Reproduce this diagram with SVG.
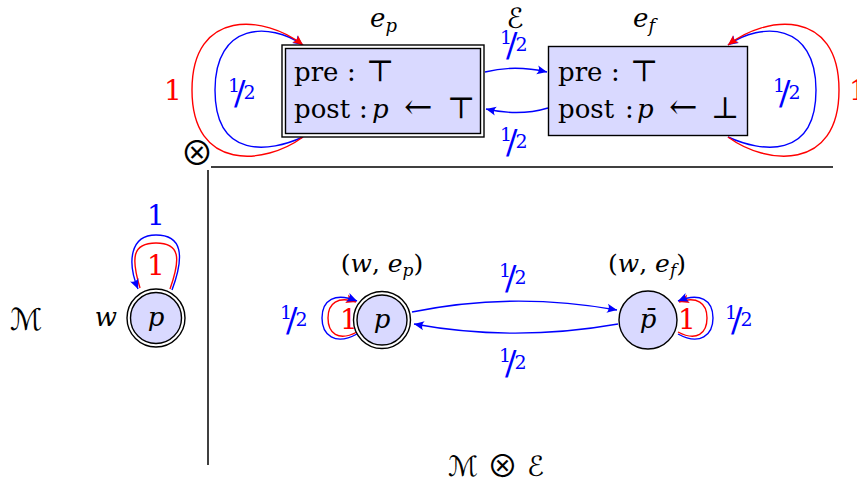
<svg xmlns="http://www.w3.org/2000/svg" width="857" height="489" viewBox="0 0 857 489">
<style>
text{font-family:"DejaVu Serif",serif}
.t{fill:#000}
.mi{font-style:italic;fill:#000}
.sym{font-family:"DejaVu Serif","DejaVu Sans",serif;fill:#000}
.op{font-family:"Noto Sans CJK JP","Noto Sans CJK SC","DejaVu Sans",sans-serif;font-style:normal;font-weight:normal;fill:#000}
.scr{font-family:"DejaVu Serif","DejaVu Sans",serif;font-style:italic;fill:#000}
.blue{fill:#0000ff}
.red{fill:#ff0000}
.eb{fill:none;stroke:#0000ff;stroke-width:1.4}
.er{fill:none;stroke:#ff0000;stroke-width:1.4}
.node{fill:#d9d9ff;stroke:#000;stroke-width:1.4}
.ring{fill:#fff;stroke:#000;stroke-width:1.4}
.n{font-size:19px}
.s{font-size:34px}
.rule{stroke:#000;stroke-width:1.5}
</style>
<defs>
<marker id="ab" viewBox="-11 -6 12 12" refX="0" refY="0" markerWidth="12" markerHeight="12" markerUnits="userSpaceOnUse" orient="auto"><path d="M0,0 L-10,-4.5 Q-6.5,0 -10,4.5 Z" fill="#0000ff"/></marker>
<marker id="ar" viewBox="-11 -6 12 12" refX="0" refY="0" markerWidth="12" markerHeight="12" markerUnits="userSpaceOnUse" orient="auto"><path d="M0,0 L-10,-4.5 Q-6.5,0 -10,4.5 Z" fill="#ff0000"/></marker>
</defs>

<g id="rules">
<line class="rule" x1="211" y1="167" x2="833" y2="167"/>
<line class="rule" x1="208" y1="170" x2="208" y2="465"/>
<text class="op" x="197" y="165" font-size="33" text-anchor="middle">⊗</text>
</g>

<g id="connectors">
<path class="eb" d="M303,137 C270,152 215,160 215,90 C215,22 270,22 303,45" marker-end="url(#ab)"/>
<path class="er" d="M303,137 C265,165 192,172 192,90 C192,8 265,15 303,45" marker-end="url(#ar)"/>
<path class="eb" d="M728,137 C761,152 816,160 816,90 C816,22 761,22 728,45" marker-end="url(#ab)"/>
<path class="er" d="M728,137 C766,165 839,172 839,90 C839,8 766,15 728,45" marker-end="url(#ar)"/>
<path class="eb" d="M485,72 C505,67 525,67 547,72" marker-end="url(#ab)"/>
<path class="eb" d="M548,108 C528,114 508,114 486,109" marker-end="url(#ab)"/>
<path class="er" d="M170,289 C181,258 180,243 156,243 C132,243 131,258 140,288"/>
<path class="eb" d="M172,290 C185,255 182,235 156,235 C130,235 127,262 138,289" marker-end="url(#ab)"/>
<path class="er" d="M357,332 C338,342 328,333 328,318 C328,303 338,296 356,302" marker-end="url(#ar)"/>
<path class="eb" d="M357,334 C335,346 322,335 322,318 C322,300 335,292 357,301" marker-end="url(#ab)"/>
<path class="er" d="M678,332 C697,342 707,333 707,318 C707,303 697,296 679,302" marker-end="url(#ar)"/>
<path class="eb" d="M678,334 C700,346 713,335 713,318 C713,300 700,292 678,301" marker-end="url(#ab)"/>
<path class="eb" d="M412,312 C480,298 550,298 617,310" marker-end="url(#ab)"/>
<path class="eb" d="M618,324 C550,336 480,336 414,324" marker-end="url(#ab)"/>
</g>

<g id="labels">
<text class="t red" x="173" y="100" font-size="28" text-anchor="middle">1</text>
<text class="t blue" x="228" y="92"><tspan class="n">1</tspan><tspan class="s" dx="-6" dy="13">/</tspan><tspan class="n" dx="-2" dy="-6">2</tspan></text>
<text class="t blue" x="773" y="92"><tspan class="n">1</tspan><tspan class="s" dx="-6" dy="13">/</tspan><tspan class="n" dx="-2" dy="-6">2</tspan></text>
<text class="t red" x="849" y="100" font-size="28">1</text>
<text class="t blue" x="500" y="44"><tspan class="n">1</tspan><tspan class="s" dx="-6" dy="13">/</tspan><tspan class="n" dx="-2" dy="-6">2</tspan></text>
<text class="t blue" x="500" y="141"><tspan class="n">1</tspan><tspan class="s" dx="-6" dy="13">/</tspan><tspan class="n" dx="-2" dy="-6">2</tspan></text>
<text class="t blue" x="156" y="225" font-size="28" text-anchor="middle">1</text>
<text class="t red" x="156" y="275" font-size="28" text-anchor="middle">1</text>
<text class="t red" x="349" y="329" font-size="28" text-anchor="middle">1</text>
<text class="t red" x="687" y="329" font-size="28" text-anchor="middle">1</text>
<text class="t blue" x="280" y="319"><tspan class="n">1</tspan><tspan class="s" dx="-6" dy="13">/</tspan><tspan class="n" dx="-2" dy="-6">2</tspan></text>
<text class="t blue" x="725" y="319"><tspan class="n">1</tspan><tspan class="s" dx="-6" dy="13">/</tspan><tspan class="n" dx="-2" dy="-6">2</tspan></text>
<text class="t blue" x="499" y="277"><tspan class="n">1</tspan><tspan class="s" dx="-6" dy="13">/</tspan><tspan class="n" dx="-2" dy="-6">2</tspan></text>
<text class="t blue" x="499" y="362"><tspan class="n">1</tspan><tspan class="s" dx="-6" dy="13">/</tspan><tspan class="n" dx="-2" dy="-6">2</tspan></text>
</g>

<g id="title-E">
<text class="scr" x="515" y="28" font-size="28" text-anchor="middle">ℰ</text>
</g>

<g id="node-ep">
<rect class="ring" x="282" y="45" width="202" height="92"/>
<rect class="node" x="285.5" y="48.5" width="195" height="85"/>
<text class="mi" x="370" y="27" font-size="26">e<tspan font-size="18" dy="5">p</tspan></text>
<text class="t" x="294" y="81" font-size="26">pre<tspan x="347">:</tspan><tspan class="sym" x="366" font-size="30">⊤</tspan></text>
<text class="t" x="294" y="118" font-size="26">post<tspan x="359">:</tspan><tspan class="mi" x="372">p</tspan><tspan class="sym" x="404" font-size="34">←</tspan><tspan class="sym" x="447" font-size="30">⊤</tspan></text>
</g>

<g id="node-ef">
<rect class="node" x="548.5" y="46.5" width="199" height="89"/>
<text class="mi" x="633" y="27" font-size="26">e<tspan font-size="18" dy="5">f</tspan></text>
<text class="t" x="558" y="81" font-size="26">pre<tspan x="611">:</tspan><tspan class="sym" x="630" font-size="30">⊤</tspan></text>
<text class="t" x="558" y="118" font-size="26">post<tspan x="625">:</tspan><tspan class="mi" x="637">p</tspan><tspan class="sym" x="669" font-size="34">←</tspan><tspan class="sym" x="711" font-size="30">⊥</tspan></text>
</g>

<g id="node-M">
<text class="scr" x="26" y="330" font-size="30" text-anchor="middle">ℳ</text>
<text class="mi" x="106" y="326" font-size="26" text-anchor="middle">w</text>
<circle class="ring" cx="156" cy="318" r="29"/>
<circle class="node" cx="156" cy="318" r="25.5"/>
<text class="mi" x="156" y="326" font-size="26" text-anchor="middle">p</text>
</g>

<g id="node-wep">
<text class="t" x="382" y="272" font-size="25" text-anchor="middle">(<tspan class="mi">w</tspan>, <tspan class="mi">e</tspan><tspan class="mi" font-size="17" dy="4">p</tspan><tspan dy="-4">)</tspan></text>
<circle class="ring" cx="382" cy="320" r="28.5"/>
<circle class="node" cx="382" cy="320" r="25"/>
<text class="mi" x="382" y="328" font-size="26" text-anchor="middle">p</text>
</g>

<g id="node-wef">
<text class="t" x="647" y="272" font-size="25" text-anchor="middle">(<tspan class="mi">w</tspan>, <tspan class="mi">e</tspan><tspan class="mi" font-size="17" dy="4">f</tspan><tspan dy="-4">)</tspan></text>
<circle class="node" cx="648" cy="320" r="29"/>
<text class="mi" x="648" y="328" font-size="26" text-anchor="middle">p̄</text>
</g>

<g id="title-ME">
<text class="scr" x="496" y="476" font-size="28" text-anchor="middle">ℳ <tspan class="op" font-size="31" dy="1">⊗</tspan><tspan dy="-1"> ℰ</tspan></text>
</g>
</svg>
